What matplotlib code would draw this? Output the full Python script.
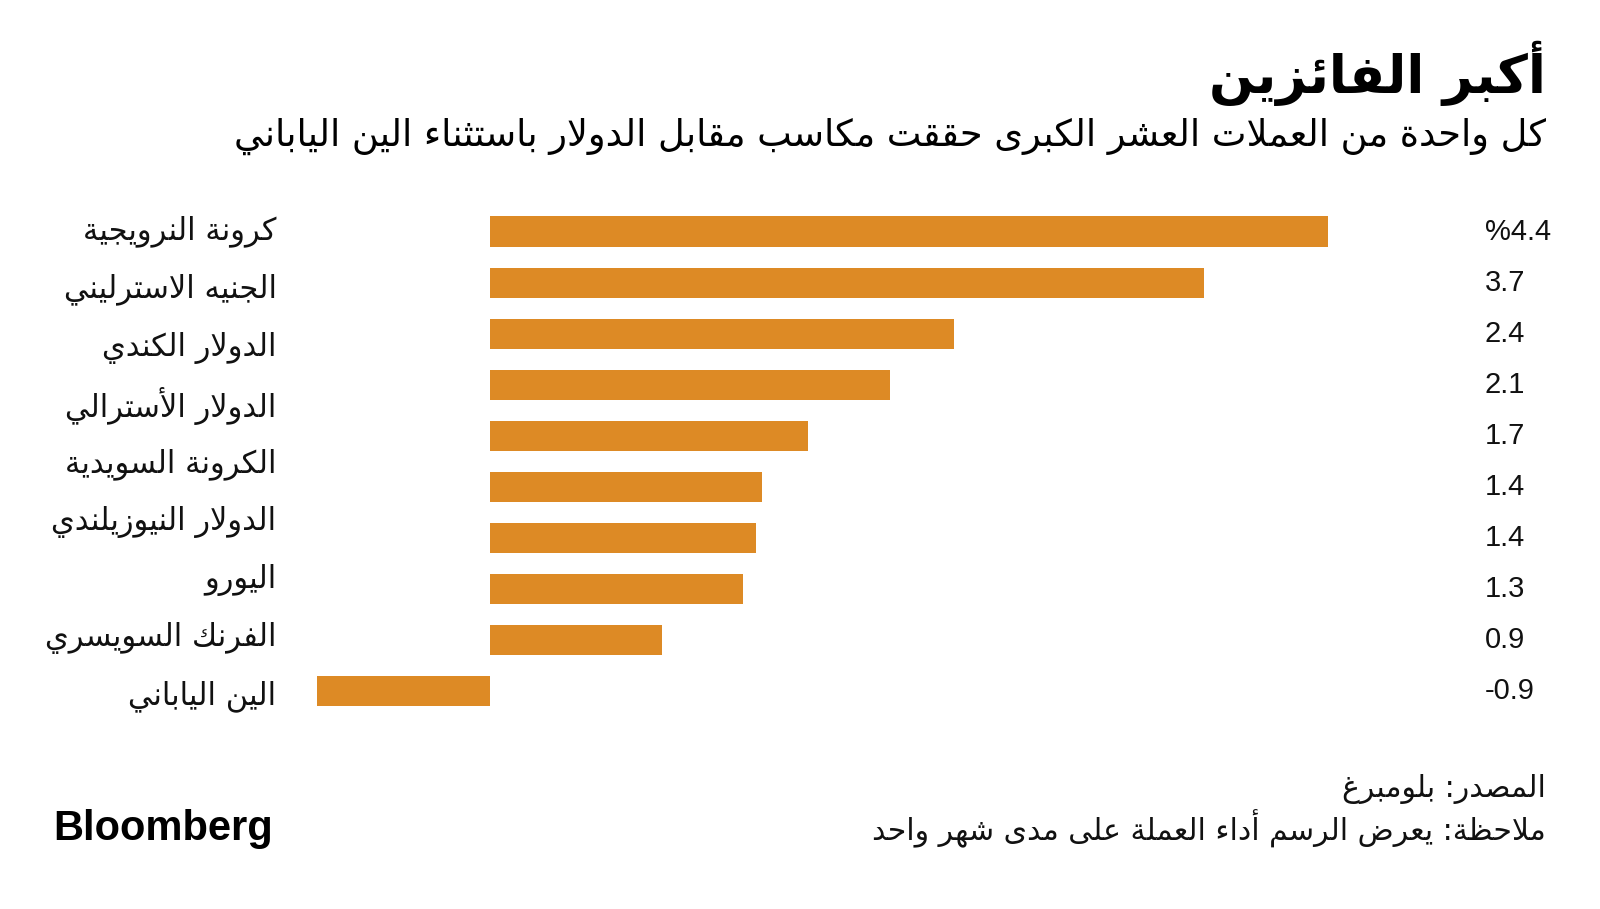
import numpy as np
import matplotlib
matplotlib.use("Agg")
from matplotlib import pyplot as plt

# chart data (bar lengths, labels as printed)
currencies = ['كرونة النرويجية', 'الجنيه الاسترليني', 'الدولار الكندي',
              'الدولار الأسترالي', 'الكرونة السويدية', 'الدولار النيوزيلندي',
              'اليورو', 'الفرنك السويسري', 'الين الياباني']
changes = [4.40, 3.75, 2.44, 2.10, 1.67, 1.43, 1.40, 1.33, 0.906, -0.91]
value_labels = ['%4.4', '3.7', '2.4', '2.1', '1.7', '1.4', '1.4', '1.3', '0.9', '-0.9']

title = 'أكبر الفائزين'
subtitle = 'كل واحدة من العملات العشر الكبرى حققت مكاسب مقابل الدولار باستثناء الين الياباني'
source = 'المصدر: بلومبرغ'
note = 'ملاحظة: يعرض الرسم أداء العملة على مدى شهر واحد'

BAR_COLOR = '#DD8A25'

# matplotlib has no arabic shaping -> build presentation forms by hand
letters = 'ءآأؤإئابةتثجحخدذرزسشصضطظعغفقكلمنهوىي'
nforms = [1, 2, 2, 2, 2, 4, 2, 4, 2, 4, 4, 4, 4, 4, 2, 2, 2, 2, 4, 4, 4, 4,
          4, 4, 4, 4, 4, 4, 4, 4, 4, 4, 4, 2, 2, 4]
forms = {}
code = 0xFE80
for ch, n in zip(letters, nforms):
    forms[ch] = [chr(code + k) for k in range(n)]
    code += n
lam_alef = {'آ': 0xFEF5, 'أ': 0xFEF7, 'إ': 0xFEF9, 'ا': 0xFEFB}


def joins_next(ch):
    return ch in forms and len(forms[ch]) == 4


def joins_prev(ch):
    return ch in forms and ch != 'ء'


def shape(txt):
    out = []
    i = 0
    prev = None
    while i < len(txt):
        ch = txt[i]
        if ch not in forms:
            out.append(ch)
            prev = ch
            i += 1
            continue
        p = prev is not None and joins_next(prev) and joins_prev(ch)
        if ch == 'ل' and i + 1 < len(txt) and txt[i + 1] in lam_alef:
            out.append(chr(lam_alef[txt[i + 1]] + (1 if p else 0)))
            prev = txt[i + 1]
            i += 2
            continue
        nxt = txt[i + 1] if i + 1 < len(txt) else None
        n = joins_next(ch) and nxt is not None and joins_prev(nxt)
        if p and n:
            out.append(forms[ch][3])
        elif n:
            out.append(forms[ch][2])
        elif p:
            out.append(forms[ch][1])
        else:
            out.append(forms[ch][0])
        prev = ch
        i += 1
    return ''.join(out)[::-1]


AR = ['DejaVu Sans']
NUM = ['Liberation Sans', 'DejaVu Sans']

fig = plt.figure(figsize=(16, 9.09), dpi=100)
fig.patch.set_facecolor('white')

# axes placed so that zero sits at ~490px, 190px per unit
ax = fig.add_axes([299.6 / 1600, 1 - 716.4 / 909, 1047 / 1600, 510.4 / 909])
pos = np.arange(len(changes))
ax.barh(pos, changes, height=0.59, color=BAR_COLOR)
ax.set_xlim(-1.0, 4.5)
ax.set_ylim(len(changes) - 0.5, -0.5)
ax.axis('off')

tr = ax.get_yaxis_transform()
# 9 names spread over the 10 bars, like the original
label_pos = np.linspace(0, len(changes) - 0.9, len(currencies))
for y, name in zip(label_pos, currencies):
    ax.text(-0.022, y, shape(name), transform=tr, ha='right', va='center',
            fontsize=22, family=AR, color='#111111')

for y, lab in zip(pos, value_labels):
    ax.text(1.132, y, lab, transform=tr, ha='left', va='center',
            fontsize=21, family=NUM, color='#111111')

# header
fig.text(1546 / 1600, 1 - 73 / 909, shape(title), ha='right', va='center',
         fontsize=38, fontweight='bold', family=AR, color='black')
fig.text(1546 / 1600, 1 - 136 / 909, shape(subtitle), ha='right', va='center',
         fontsize=26.5, family=AR, color='black')

# footer
fig.text(1546 / 1600, 1 - 789 / 909, shape(source), ha='right', va='center',
         fontsize=21.5, family=AR, color='#111111')
fig.text(1546 / 1600, 1 - 829 / 909, shape(note), ha='right', va='center',
         fontsize=21.5, family=AR, color='#111111')
fig.text(53 / 1600, 1 - 829 / 909, 'Bloomberg', ha='left', va='center',
         fontsize=30, fontweight='bold', family=NUM, color='black')

fig.savefig('out.png', dpi=100, facecolor='white')
